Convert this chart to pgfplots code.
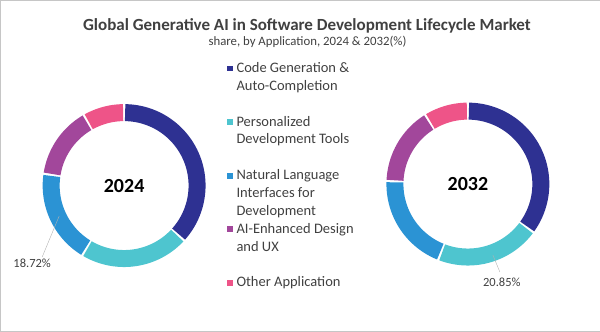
\documentclass[border=0pt]{standalone}
\usepackage{pgfplots}
\pgfplotsset{compat=1.18}
\usepackage{pgfplotstable}
\usepackage{fontspec}
\setmainfont{Carlito}
\definecolor{cgen}{HTML}{2E3192}
\definecolor{cper}{HTML}{4EC5CF}
\definecolor{cnat}{HTML}{2B93D4}
\definecolor{cai}{HTML}{A2479B}
\definecolor{coth}{HTML}{EE5488}
\definecolor{txtgray}{HTML}{404040}

% shares (%), 2024
\pgfplotstableread{
share col
36.80 cgen
21.80 cper
18.72 cnat
14.40 cai
8.28 coth
}\tabA
% shares (%), 2032
\pgfplotstableread{
share col
35.10 cgen
20.85 cper
19.65 cnat
15.60 cai
8.80 coth
}\tabB

% #1 table, #2 cx, #3 cy
\newcommand{\donut}[3]{%
  \pgfplotstablegetrowsof{#1}%
  \pgfmathtruncatemacro\nrows{\pgfplotsretval-1}%
  \def\cum{0}%
  \pgfplotsforeachungrouped \i in {0,...,\nrows}{%
    \pgfplotstablegetelem{\i}{share}\of{#1}\let\val\pgfplotsretval
    \pgfplotstablegetelem{\i}{col}\of{#1}\let\colname\pgfplotsretval
    \pgfmathsetmacro\aa{3.6*\cum+0.8}%
    \pgfmathsetmacro\cum{\cum+\val}%
    \pgfmathsetmacro\bb{3.6*\cum-0.8}%
    \edef\cmd{\noexpand\addplot[forget plot, line width=17pt, color=\colname, domain=\aa:\bb, samples=80] ({#2+73*sin(x)},{#3+73*cos(x)});}%
    \cmd
  }%
}

\pgfplotsset{
  sq/.style={legend image code/.code={\fill[#1, draw=none] (0pt,1pt) rectangle (5.8pt,6.7pt);}},
  nosq/.style={legend image code/.code={}},
}

\begin{document}
\begin{tikzpicture}
\begin{axis}[
  x=1pt, y=1pt, xmin=0, xmax=600, ymin=0, ymax=331,
  xtick=\empty, ytick=\empty,
  axis line style={draw=gray!45},
  clip=false,
  legend cell align=left,
  legend style={at={(226.7/600,270.7/331)}, anchor=north west, draw=none, fill=none,
    inner sep=0pt, outer sep=0pt, row sep=0pt, column sep=4pt,
    cells={anchor=base west},
    nodes={inner sep=0pt, text height=12pt, text depth=5.87pt},
    font=\fontsize{14.5}{17.9}\selectfont, text=txtgray},
]
\donut{\tabA}{124}{145.5}
\donut{\tabB}{468}{147}
% legend
\addlegendimage{sq=cgen}\addlegendentry{Code Generation \&}
\addlegendimage{nosq}\addlegendentry{Auto-Completion}
\addlegendimage{nosq}\addlegendentry{}
\addlegendimage{sq=cper}\addlegendentry{Personalized}
\addlegendimage{nosq}\addlegendentry{Development Tools}
\addlegendimage{nosq}\addlegendentry{}
\addlegendimage{sq=cnat}\addlegendentry{Natural Language}
\addlegendimage{nosq}\addlegendentry{Interfaces for}
\addlegendimage{nosq}\addlegendentry{Development}
\addlegendimage{sq=cai}\addlegendentry{AI-Enhanced Design}
\addlegendimage{nosq}\addlegendentry{and UX}
\addlegendimage{nosq}\addlegendentry{}
\addlegendimage{sq=coth}\addlegendentry{Other Application}
% leader lines
\addplot[gray!60, thin, forget plot] coordinates {(59,115) (42,74)};
\addplot[gray!60, thin, forget plot] coordinates {(493,76) (500,59)};
% texts
\node[anchor=base, font=\fontsize{17}{20}\selectfont\bfseries, text=txtgray] at (axis cs:307,301) {Global Generative AI in Software Development Lifecycle Market};
\node[anchor=base, font=\fontsize{12.8}{15}\selectfont, text=txtgray] at (axis cs:307.5,286) {share, by Application, 2024 \& 2032(\%)};
\node[font=\fontsize{20}{24}\selectfont\bfseries, text=black] at (axis cs:124,145.5) {2024};
\node[font=\fontsize{20}{24}\selectfont\bfseries, text=black] at (axis cs:468,147) {2032};
\node[font=\fontsize{12.5}{15}\selectfont, text=txtgray] at (axis cs:32,68) {18.72\%};
\node[font=\fontsize{12.5}{15}\selectfont, text=txtgray] at (axis cs:502,49) {20.85\%};
\end{axis}
\end{tikzpicture}
\end{document}
